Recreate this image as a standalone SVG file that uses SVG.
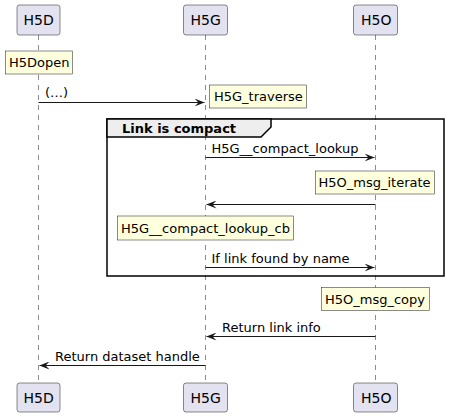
<svg xmlns="http://www.w3.org/2000/svg" width="449" height="417" viewBox="0 0 449 417">
<defs>
<style>
.part{fill:#E2E2F0;stroke:#181818;stroke-width:0.5}
.pt{font-family:"DejaVu Sans",sans-serif;font-size:14px;fill:#000}
.life{stroke:#181818;stroke-width:0.5;stroke-dasharray:5,5;fill:none}
.note{fill:#FEFFDD;stroke:#181818;stroke-width:0.5}
.nt{font-family:"DejaVu Sans",sans-serif;font-size:13px;fill:#000}
.msg{stroke:#181818;stroke-width:1;fill:none}
.ml{font-family:"DejaVu Sans",sans-serif;font-size:13px;fill:#000}
.gt{font-family:"DejaVu Sans",sans-serif;font-size:13px;font-weight:bold;fill:#000}
</style>
<marker id="ah" viewBox="0 0 10 8" refX="10" refY="4" markerWidth="10" markerHeight="8" markerUnits="userSpaceOnUse" orient="auto">
<polygon points="0,0 10,4 0,8 4,4" fill="#181818"/>
</marker>
</defs>
<g id="lifelines">
<line class="life" x1="38.5" y1="35" x2="38.5" y2="383"/>
<line class="life" x1="205.5" y1="35" x2="205.5" y2="383"/>
<line class="life" x1="375.5" y1="35" x2="375.5" y2="383"/>
</g>
<g id="group-link-compact">
<rect x="107" y="119" width="337" height="157" fill="none" stroke="#000" stroke-width="1.5"/>
<polygon points="107,119 271,119 271,127 261,137 107,137" fill="#EEEEEE" stroke="#000" stroke-width="1.5"/>
<text class="gt" x="122" y="132.5">Link is compact</text>
</g>
<g id="H5D">
<rect class="part" x="17" y="5" width="43" height="30" rx="2.5"/>
<text class="pt" x="23.5" y="25">H5D</text>
<rect class="part" x="17" y="383" width="43" height="29" rx="2.5"/>
<text class="pt" x="23.5" y="403">H5D</text>
</g>
<g id="H5G">
<rect class="part" x="183.5" y="5" width="44" height="30" rx="2.5"/>
<text class="pt" x="190.5" y="25">H5G</text>
<rect class="part" x="183.5" y="383" width="44" height="29" rx="2.5"/>
<text class="pt" x="190.5" y="403">H5G</text>
</g>
<g id="H5O">
<rect class="part" x="353.5" y="5" width="44" height="30" rx="2.5"/>
<text class="pt" x="361" y="25">H5O</text>
<rect class="part" x="353.5" y="383" width="44" height="29" rx="2.5"/>
<text class="pt" x="361" y="403">H5O</text>
</g>
<g id="note-H5Dopen">
<rect class="note" x="5.5" y="51" width="67" height="23"/>
<text class="nt" x="9" y="67">H5Dopen</text>
</g>
<g id="note-H5G_traverse">
<rect class="note" x="209.5" y="85" width="97" height="23"/>
<text class="nt" x="214" y="101">H5G_traverse</text>
</g>
<g id="note-H5O_msg_iterate">
<rect class="note" x="315.5" y="171" width="119" height="23"/>
<text class="nt" x="318.5" y="187">H5O_msg_iterate</text>
</g>
<g id="note-H5G__compact_lookup_cb">
<rect class="note" x="117.5" y="216" width="176" height="24"/>
<text class="nt" x="121" y="232.5">H5G__compact_lookup_cb</text>
</g>
<g id="note-H5O_msg_copy">
<rect class="note" x="321.5" y="287.5" width="108" height="23"/>
<text class="nt" x="325" y="303.5">H5O_msg_copy</text>
</g>
<g id="connectors">
<line class="msg" x1="38.5" y1="102.5" x2="204.5" y2="102.5" marker-end="url(#ah)"/>
<text class="ml" x="45" y="97">(…)</text>
<line class="msg" x1="205.5" y1="157.5" x2="374.5" y2="157.5" marker-end="url(#ah)"/>
<text class="ml" x="211.5" y="152.5">H5G__compact_lookup</text>
<line class="msg" x1="375.5" y1="204.5" x2="206.5" y2="204.5" marker-end="url(#ah)"/>
<line class="msg" x1="205.5" y1="267.5" x2="374.5" y2="267.5" marker-end="url(#ah)"/>
<text class="ml" x="211.5" y="262.5">If link found by name</text>
<line class="msg" x1="375.5" y1="336.5" x2="206.5" y2="336.5" marker-end="url(#ah)"/>
<text class="ml" x="222" y="331.5">Return link info</text>
<line class="msg" x1="205.5" y1="365.5" x2="39.5" y2="365.5" marker-end="url(#ah)"/>
<text class="ml" x="55" y="360.5">Return dataset handle</text>
</g>
</svg>
